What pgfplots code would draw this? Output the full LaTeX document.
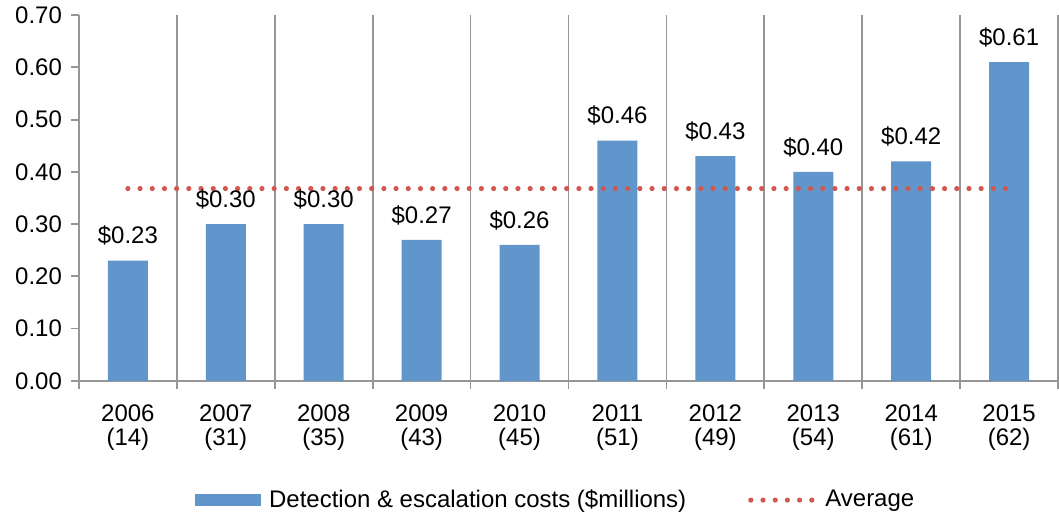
\documentclass[border=0pt]{standalone}
\usepackage{pgfplots}
\pgfplotsset{compat=1.18}
\usepackage{fontspec}
\setmainfont{Liberation Sans}
\definecolor{barblue}{RGB}{96,150,203}
\definecolor{avgred}{RGB}{208,88,80}
\definecolor{axgray}{RGB}{150,150,150}
\begin{document}
\begin{tikzpicture}
\begin{axis}[
  scale only axis,
  width=490pt, height=183pt,
  xmin=-0.5, xmax=9.5,
  ymin=0, ymax=0.7,
  axis x line=bottom, axis y line=left,
  axis line style={-, axgray, line width=0.9pt},
  tick style={axgray, line width=0.9pt},
  tick align=outside,
  major tick length=4pt,
  xtick={-0.5,0.5,...,9.5},
  x tick label as interval,
  xticklabels={{2006\\(14)},{2007\\(31)},{2008\\(35)},{2009\\(43)},{2010\\(45)},{2011\\(51)},{2012\\(49)},{2013\\(54)},{2014\\(61)},{2015\\(62)}},
  xticklabel style={align=center, font=\fontsize{12}{12}\selectfont, yshift=-4.5pt},
  xmajorgrids,
  grid style={axgray, line width=0.9pt},
  ytick={0,0.1,...,0.7},
  yticklabel style={/pgf/number format/fixed, /pgf/number format/fixed zerofill, /pgf/number format/precision=2, /pgf/number format/assume math mode=true, font=\fontsize{12}{12}\selectfont, xshift=-1pt},
  legend style={at={(0.49,-0.275)}, anchor=north, draw=none, fill=none,
    legend columns=2, font=\fontsize{12}{12}\selectfont,
    /tikz/every even column/.append style={column sep=27pt},
    nodes={inner xsep=4pt}},
  legend cell align=left,
]
\addplot[ybar, bar width=20pt, fill=barblue, draw=none,
  nodes near coords={\$\pgfmathprintnumber[fixed,fixed zerofill,precision=2,assume math mode=true]{\pgfplotspointmeta}},
  every node near coord/.append style={font=\fontsize{12}{12}\selectfont, yshift=4pt},
  legend image code/.code={\fill[barblue] (0pt,-3pt) rectangle (33pt,3pt);}
] coordinates {
(0,0.23) (1,0.30) (2,0.30) (3,0.27) (4,0.26) (5,0.46) (6,0.43) (7,0.40) (8,0.42) (9,0.61)
};
\addlegendentry{Detection \& escalation costs (\$millions)}
\addplot[avgred, line width=2.6pt, line cap=round, dash pattern=on 0pt off 6.1pt,
  legend image code/.code={\draw[avgred, line width=2.6pt, line cap=round, dash pattern=on 0pt off 6.1pt] (1pt,0pt) -- (33pt,0pt);}
] coordinates {(0,0.368) (9,0.368)};
\addlegendentry{Average}
\end{axis}
\path ([xshift=-39.5pt,yshift=-64.5pt]current axis.south west) rectangle ([yshift=7.5pt]current axis.north east);
\end{tikzpicture}
\end{document}
